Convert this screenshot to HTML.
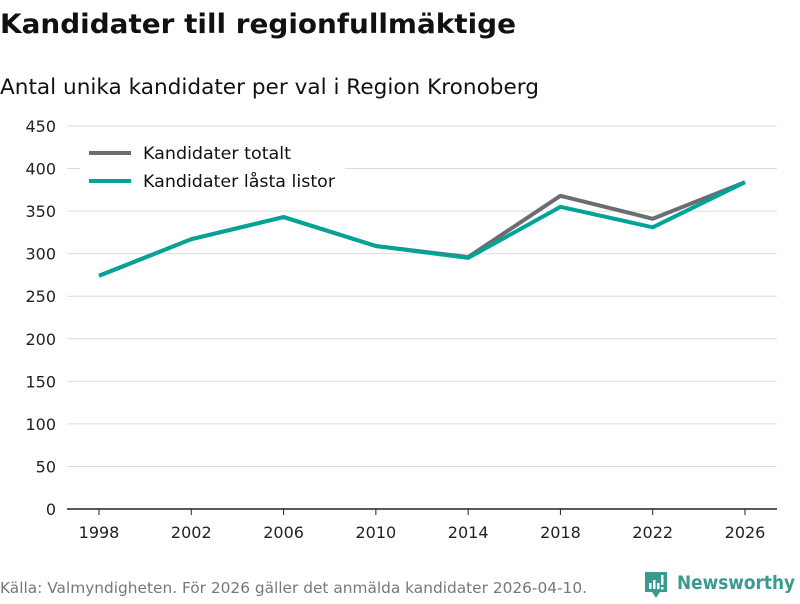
<!DOCTYPE html>
<html><head><meta charset="utf-8"><style>
body{margin:0;background:#fff;font-family:"DejaVu Sans","Liberation Sans",sans-serif;}
svg text{font-family:"DejaVu Sans","Liberation Sans",sans-serif;}
</style></head><body>
<svg id="c" width="800" height="600" xmlns="http://www.w3.org/2000/svg">
<text x="0" y="33" font-size="27" font-weight="bold" fill="#111" textLength="516" lengthAdjust="spacingAndGlyphs">Kandidater till regionfullmäktige</text>
<text x="0" y="94" font-size="21.5" fill="#111" textLength="539" lengthAdjust="spacingAndGlyphs">Antal unika kandidater per val i Region Kronoberg</text>
<g id="grid"></g><g id="lines"></g>
<g>
<rect x="80" y="140" width="265" height="58" fill="#fff"/>
<line x1="89" y1="153" x2="131" y2="153" stroke="#6d6c72" stroke-width="4"/>
<text x="143" y="159" font-size="17" fill="#111" textLength="148" lengthAdjust="spacingAndGlyphs">Kandidater totalt</text>
<line x1="89" y1="181" x2="131" y2="181" stroke="#00a398" stroke-width="4"/>
<text x="143" y="187" font-size="17" fill="#111" textLength="192" lengthAdjust="spacingAndGlyphs">Kandidater låsta listor</text>
</g>
<text x="0" y="593" font-size="15" fill="#777" textLength="587" lengthAdjust="spacingAndGlyphs">Källa: Valmyndigheten. För 2026 gäller det anmälda kandidater 2026-04-10.</text>
<g>
<path d="M645 572 h22 v20 h-7 l-4 6 l-4 -6 h-7 z" fill="#3a9a8f"/>
<rect x="649" y="583" width="2.5" height="6" fill="#fff"/><rect x="653" y="580" width="2.5" height="9" fill="#fff"/><rect x="657" y="583" width="2.5" height="6" fill="#fff"/><rect x="661" y="575" width="2.5" height="10" fill="#fff"/><rect x="661" y="587" width="2.5" height="2.5" fill="#fff"/>
<text x="677" y="589" font-size="19" font-weight="bold" fill="#3a9a8f" textLength="118" lengthAdjust="spacingAndGlyphs">Newsworthy</text>
</g>
</svg>
<script>
const years=["1998","2002","2006","2010","2014","2018","2022","2026"];
const totalt=[274,317,343,309,296,368,341,384];
const lasta=[274,317,343,309,295,355,331,384];
const yTicks=[0,50,100,150,200,250,300,350,400,450];
const NS="http://www.w3.org/2000/svg";
const x=i=>99+i*(745-99)/(years.length-1);
const y=v=>509-v*(509-126)/450;
const grid=document.getElementById('grid'),lines=document.getElementById('lines');
function mk(t,a,p){const e=document.createElementNS(NS,t);for(const k in a)e.setAttribute(k,a[k]);p.appendChild(e);return e;}
yTicks.forEach(v=>{
 if(v>0){const l=mk('line',{x1:67,x2:777,y1:y(v),y2:y(v),stroke:'#ddd','stroke-width':1},grid);
 
 }
 const t=mk('text',{x:56,y:y(v)+6,'font-size':16,fill:'#222','text-anchor':'end'},grid);t.textContent=v;
 
 
});
const ax=mk('line',{x1:67,x2:777,y1:509,y2:509,stroke:'#222','stroke-width':1.5},grid);


years.forEach((yr,i)=>{
 const tk=mk('line',{x1:x(i),x2:x(i),y1:509,y2:515,stroke:'#222'},grid);
 
 
 const t=mk('text',{x:x(i),y:538,'font-size':16,fill:'#222','text-anchor':'middle'},grid);t.textContent=yr;
 
 
});
[[totalt,'#6d6c72','line-totalt'],[lasta,'#00a398','line-lasta']].forEach(([d,c,n])=>{
 const p=mk('polyline',{points:d.map((v,i)=>x(i)+','+y(v)).join(' '),fill:'none',stroke:c,'stroke-width':4,'stroke-linejoin':'round'},lines);
 
 
});
</script>
</body></html>
